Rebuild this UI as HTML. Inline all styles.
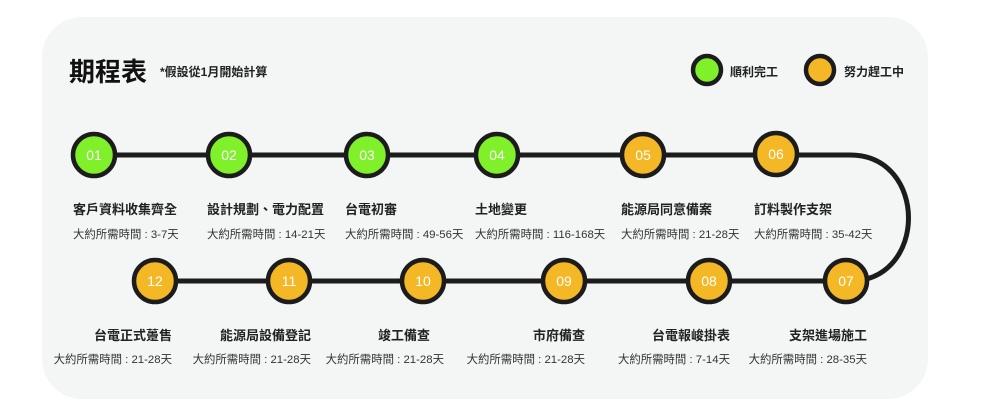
<!DOCTYPE html>
<html><head><meta charset="utf-8"><style>
body{margin:0;width:1000px;height:417px;background:#fff;overflow:hidden;font-family:"Liberation Sans","Noto Sans CJK TC",sans-serif;}
.panel{position:absolute;left:42px;top:17px;width:886px;height:382px;background:#f4f6f6;border-radius:40px;}
.t{position:absolute;white-space:nowrap;color:#222;}
.h{font-size:13px;font-weight:bold;}
.d{font-size:11.4px;color:#333;}
svg{position:absolute;left:0;top:0;}
</style></head><body>
<div class="panel"></div>
<svg width="1000" height="417">
<path d="M94 155 H850 C928 155 928 281 850 281 H155" fill="none" stroke="#1c1c1c" stroke-width="5"/>
<g stroke="#1c1c1c" stroke-width="4.5">
<circle cx="94" cy="155" r="21" fill="#80f02a"/>
<circle cx="229" cy="155" r="21" fill="#80f02a"/>
<circle cx="367" cy="155" r="21" fill="#80f02a"/>
<circle cx="497" cy="155" r="21" fill="#80f02a"/>
<circle cx="643" cy="155" r="21" fill="#f4b826"/>
<circle cx="776" cy="154" r="21" fill="#f4b826"/>
<circle cx="846" cy="281" r="21" fill="#f4b826"/>
<circle cx="709" cy="281" r="21" fill="#f4b826"/>
<circle cx="564" cy="281" r="21" fill="#f4b826"/>
<circle cx="423" cy="281" r="21" fill="#f4b826"/>
<circle cx="289" cy="281" r="21" fill="#f4b826"/>
<circle cx="155" cy="281" r="21" fill="#f4b826"/>
<circle cx="707" cy="70" r="14" fill="#80f02a"/>
<circle cx="820" cy="70" r="14" fill="#f4b826"/>
</g>
<g fill="#fff" font-family="Liberation Sans, sans-serif" font-size="14" text-anchor="middle">
<text x="94" y="160">01</text><text x="229" y="160">02</text><text x="367" y="160">03</text><text x="497" y="160">04</text><text x="643" y="160">05</text><text x="776" y="159">06</text>
<text x="846" y="286">07</text><text x="709" y="286">08</text><text x="564" y="286">09</text><text x="423" y="286">10</text><text x="289" y="286">11</text><text x="155" y="286">12</text>
</g>
</svg>
<div class="t" style="left:69px;top:52px;font-size:26px;font-weight:bold;color:#111">期程表</div>
<div class="t" style="left:160px;top:63px;font-size:12px;font-weight:bold">*假設從1月開始計算</div>
<div class="t h" style="left:730px;top:63px;font-size:12px">順利完工</div>
<div class="t h" style="left:844px;top:63px;font-size:12px">努力趕工中</div>

<div class="t h" style="left:73px;top:199px">客戶資料收集齊全</div>
<div class="t d" style="left:73px;top:226px">大約所需時間 : 3-7天</div>
<div class="t h" style="left:207px;top:199px">設計規劃、電力配置</div>
<div class="t d" style="left:207px;top:226px">大約所需時間 : 14-21天</div>
<div class="t h" style="left:345px;top:199px">台電初審</div>
<div class="t d" style="left:345px;top:226px">大約所需時間 : 49-56天</div>
<div class="t h" style="left:475px;top:199px">土地變更</div>
<div class="t d" style="left:475px;top:226px">大約所需時間 : 116-168天</div>
<div class="t h" style="left:621px;top:199px">能源局同意備案</div>
<div class="t d" style="left:621px;top:226px">大約所需時間 : 21-28天</div>
<div class="t h" style="left:754px;top:199px">訂料製作支架</div>
<div class="t d" style="left:754px;top:226px">大約所需時間 : 35-42天</div>

<div class="t h" style="right:133px;top:325px">支架進場施工</div>
<div class="t d" style="right:133px;top:351px">大約所需時間 : 28-35天</div>
<div class="t h" style="right:270px;top:325px">台電報峻掛表</div>
<div class="t d" style="right:270px;top:351px">大約所需時間 : 7-14天</div>
<div class="t h" style="right:415px;top:325px">市府備查</div>
<div class="t d" style="right:415px;top:351px">大約所需時間 : 21-28天</div>
<div class="t h" style="right:570px;top:325px">竣工備查</div>
<div class="t d" style="right:556px;top:351px">大約所需時間 : 21-28天</div>
<div class="t h" style="right:689px;top:325px">能源局設備登記</div>
<div class="t d" style="right:689px;top:351px">大約所需時間 : 21-28天</div>
<div class="t h" style="right:828px;top:325px">台電正式躉售</div>
<div class="t d" style="right:828px;top:351px">大約所需時間 : 21-28天</div>
</body></html>
